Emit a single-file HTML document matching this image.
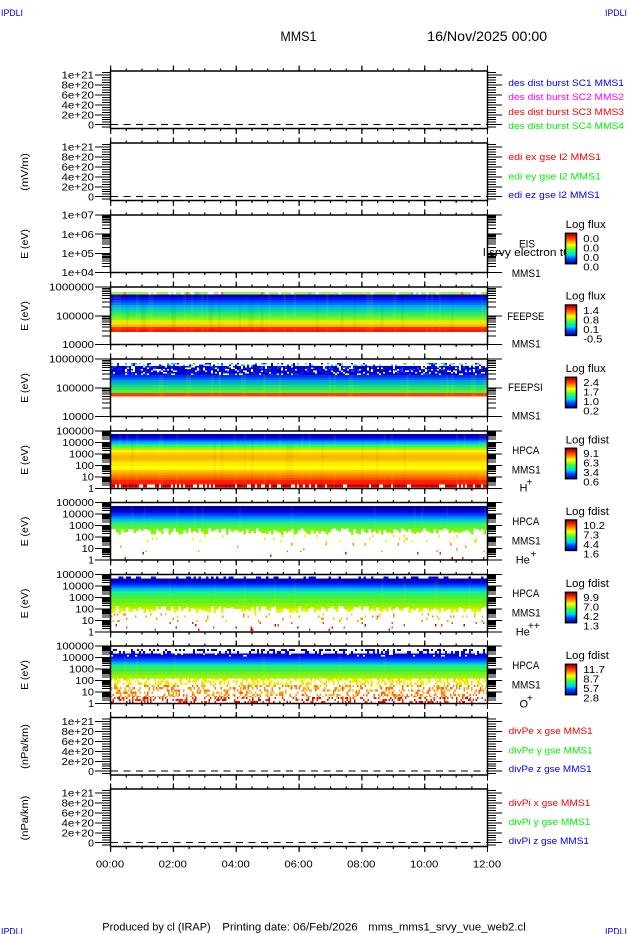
<!DOCTYPE html>
<html><head><meta charset="utf-8"><style>
html,body{margin:0;padding:0;background:#fff;}
body{width:630px;height:934px;overflow:hidden;}
svg{display:block}
text{font-family:"Liberation Sans",sans-serif;font-size:11px;fill:#000}
.tl{font-size:10.5px;text-anchor:end}
.tm{font-size:10.5px;text-anchor:middle}
.cl{font-size:10px}
.lg{font-size:9px}
.ip{font-size:9px;fill:#0000ff}
.yt{font-size:10.5px;text-anchor:middle}
.sup{font-size:10px}
</style></head><body>
<svg width="630" height="934" viewBox="0 0 630 934" xmlns="http://www.w3.org/2000/svg">
<defs>
<linearGradient id="cb" x1="0" y1="0" x2="0" y2="1">
<stop offset="0" stop-color="#a00000"/>
<stop offset=".08" stop-color="#f00000"/>
<stop offset=".22" stop-color="#ff7000"/>
<stop offset=".38" stop-color="#ffff00"/>
<stop offset=".52" stop-color="#60ff30"/>
<stop offset=".62" stop-color="#00ff80"/>
<stop offset=".72" stop-color="#00d0ff"/>
<stop offset=".85" stop-color="#0040ff"/>
<stop offset="1" stop-color="#0000a0"/>
</linearGradient>
<clipPath id="cp"><rect x="0" y="0" width="565" height="934"/></clipPath>
<g id="TT" stroke="#000" fill="none">
<path d="M110,-1.25H488M110,58.75H488" stroke-width="2.5" stroke-dasharray="1.2 14.508"/>
<path d="M110,-2.75H488M110,60.25H488" stroke-width="5.5" stroke-dasharray="1.2 61.632"/>
<rect x="110.5" y="0" width="377" height="57.5" stroke-width="1.5"/>
</g>
<g id="LN" stroke="#000" fill="none" shape-rendering="crispEdges">
<path d="M95,53.7h15M95,43.76h15M95,33.82h15M95,23.88h15M95,13.94h15M95,4h15M488,53.7h14M488,43.76h14M488,33.82h14M488,23.88h14M488,13.94h14M488,4h14"/>
<path d="M106,56.69V0.5M492,56.69V0.5" stroke-width="8" stroke-dasharray="1 1.485"/>
<path d="M111,53.7H487" stroke-dasharray="7 5.5"/>
</g>
<path id="d5" stroke="#000" fill="none" shape-rendering="crispEdges" d="M102-3.46h8M102-5.49h8M102-6.92h8M102-8.04h8M102-8.95h8M102-9.72h8M102-10.38h8M102-10.97h8M488-3.46h8M488-5.49h8M488-6.92h8M488-8.04h8M488-8.95h8M488-9.72h8M488-10.38h8M488-10.97h8"/>
<path id="d3" stroke="#000" fill="none" shape-rendering="crispEdges" d="M102-5.77h8M102-9.15h8M102-11.54h8M102-13.4h8M102-14.92h8M102-16.2h8M102-17.31h8M102-18.29h8M488-5.77h8M488-9.15h8M488-11.54h8M488-13.4h8M488-14.92h8M488-16.2h8M488-17.31h8M488-18.29h8"/>
<path id="d2" stroke="#000" fill="none" shape-rendering="crispEdges" d="M102-8.65h8M102-13.72h8M102-17.31h8M102-20.1h8M102-22.37h8M102-24.3h8M102-25.96h8M102-27.43h8M488-8.65h8M488-13.72h8M488-17.31h8M488-20.1h8M488-22.37h8M488-24.3h8M488-25.96h8M488-27.43h8"/>
<g id="L5">
<path stroke="#000" fill="none" shape-rendering="crispEdges" d="M95,0h15M95,11.5h15M95,23h15M95,34.5h15M95,46h15M95,57.5h15M488,0h14M488,11.5h14M488,23h14M488,34.5h14M488,46h14M488,57.5h14"/>
<use href="#d5" y="57.5"/><use href="#d5" y="46"/><use href="#d5" y="34.5"/><use href="#d5" y="23"/><use href="#d5" y="11.5"/>
</g>
<g id="L3">
<path stroke="#000" fill="none" shape-rendering="crispEdges" d="M95,0h15M95,19.17h15M95,38.33h15M95,57.5h15M488,0h14M488,19.17h14M488,38.33h14M488,57.5h14"/>
<use href="#d3" y="57.5"/><use href="#d3" y="38.33"/><use href="#d3" y="19.17"/>
</g>
<g id="L2">
<path stroke="#000" fill="none" shape-rendering="crispEdges" d="M95,0h15M95,28.75h15M95,57.5h15M488,0h14M488,28.75h14M488,57.5h14"/>
<use href="#d2" y="57.5"/><use href="#d2" y="28.75"/>
</g>
</defs>

<!-- header -->
<text class="ip" x="1" y="16" textLength="22" lengthAdjust="spacingAndGlyphs">IPDLI</text>
<text class="ip" x="605" y="16" textLength="22" lengthAdjust="spacingAndGlyphs">IPDLI</text>
<text x="280.4" y="41" style="font-size:13.5px" textLength="36" lengthAdjust="spacingAndGlyphs">MMS1</text>
<text x="427.2" y="41" style="font-size:13.5px" textLength="120" lengthAdjust="spacingAndGlyphs">16/Nov/2025 00:00</text>

<!-- spectrogram bands -->
<g shape-rendering="crispEdges">
<!-- P4 FEEPSE -->
<rect x="111" width="376" y="292" height="2.5" fill="#b0ee40"/>
<rect x="111" width="376" y="294.5" height="2.5" fill="#0000c0"/>
<rect x="111" width="376" y="297" height="3" fill="#0010e8"/>
<rect x="111" width="376" y="300" height="2.5" fill="#0040ff"/>
<rect x="111" width="376" y="302.5" height="2.5" fill="#0070ff"/>
<rect x="111" width="376" y="305" height="2.5" fill="#00a8f0"/>
<rect x="111" width="376" y="307.5" height="2.5" fill="#00c8c8"/>
<rect x="111" width="376" y="310" height="2.5" fill="#10dc90"/>
<rect x="111" width="376" y="312.5" height="2.5" fill="#30e868"/>
<rect x="111" width="376" y="315" height="2.5" fill="#50f040"/>
<rect x="111" width="376" y="317.5" height="2.5" fill="#90f020"/>
<rect x="111" width="376" y="320" height="2" fill="#c8f800"/>
<rect x="111" width="376" y="322" height="2.5" fill="#ffe000"/>
<rect x="111" width="376" y="324.5" height="2.5" fill="#ffb800"/>
<rect x="111" width="376" y="327" height="2.5" fill="#ff3000"/>
<rect x="111" width="376" y="329.5" height="2.5" fill="#f42000"/>
<!-- P5 FEEPSI -->
<rect x="111" width="376" y="366" height="9" fill="#0000d0"/>
<rect x="111" width="376" y="375" height="2.5" fill="#0030f0"/>
<rect x="111" width="376" y="377.5" height="2.5" fill="#0060ff"/>
<rect x="111" width="376" y="380" height="2.5" fill="#00a0e0"/>
<rect x="111" width="376" y="382.5" height="2.5" fill="#00c0b0"/>
<rect x="111" width="376" y="385" height="2.5" fill="#20d880"/>
<rect x="111" width="376" y="387.5" height="2.5" fill="#30e860"/>
<rect x="111" width="376" y="390" height="3" fill="#50f040"/>
<rect x="111" width="376" y="393" height="3.7" fill="#ff4000"/>
<!-- P6 H+ -->
<rect x="111" width="376" y="434" height="2" fill="#0000a8"/>
<rect x="111" width="376" y="436" height="2.3" fill="#0000d8"/>
<rect x="111" width="376" y="438.3" height="1.7" fill="#0030ff"/>
<rect x="111" width="376" y="440" height="1.7" fill="#0068ff"/>
<rect x="111" width="376" y="441.7" height="1.6" fill="#00b0f8"/>
<rect x="111" width="376" y="443.3" height="1.7" fill="#00e0c8"/>
<rect x="111" width="376" y="445" height="2.7" fill="#40f060"/>
<rect x="111" width="376" y="447.7" height="2.3" fill="#a8f000"/>
<rect x="111" width="376" y="450" height="2.5" fill="#fff000"/>
<rect x="111" width="376" y="452.5" height="2.5" fill="#ffd000"/>
<rect x="111" width="376" y="455" height="3.3" fill="#ffb400"/>
<rect x="111" width="376" y="458.3" height="3.4" fill="#ffc400"/>
<rect x="111" width="376" y="461.7" height="4.3" fill="#ffee00"/>
<rect x="111" width="376" y="466" height="4" fill="#ffff00"/>
<rect x="111" width="376" y="470" height="2.5" fill="#ffc000"/>
<rect x="111" width="376" y="472.5" height="2.5" fill="#ffa000"/>
<rect x="111" width="376" y="475" height="2.5" fill="#ff7800"/>
<rect x="111" width="376" y="477.5" height="2.5" fill="#ff5000"/>
<rect x="111" width="376" y="480" height="4.3" fill="#ff2000"/>
<rect x="111" width="376" y="484.3" height="3.4" fill="#d00000"/>
<!-- P7 He+ -->
<rect x="111" width="376" y="506" height="3" fill="#0000a0"/>
<rect x="111" width="376" y="509" height="2.5" fill="#0000c8"/>
<rect x="111" width="376" y="511.5" height="2" fill="#0010e8"/>
<rect x="111" width="376" y="513.5" height="2.5" fill="#0040ff"/>
<rect x="111" width="376" y="516" height="2.3" fill="#0078ff"/>
<rect x="111" width="376" y="518.3" height="2" fill="#00b8f0"/>
<rect x="111" width="376" y="520.3" height="2" fill="#00e0c0"/>
<rect x="111" width="376" y="522.3" height="2.7" fill="#30f070"/>
<rect x="111" width="376" y="525" height="3.3" fill="#50f040"/>
<rect x="111" width="376" y="528.3" height="3.2" fill="#80f010"/>
<rect x="111" width="376" y="531.5" height="3.5" fill="#88f800"/>
<!-- P8 He++ -->
<rect x="111" width="376" y="578.3" height="2.7" fill="#0000b0"/>
<rect x="111" width="376" y="581" height="2.3" fill="#0000e0"/>
<rect x="111" width="376" y="583.3" height="2.2" fill="#0030ff"/>
<rect x="111" width="376" y="585.5" height="2.2" fill="#0068ff"/>
<rect x="111" width="376" y="587.7" height="2" fill="#00a8f8"/>
<rect x="111" width="376" y="589.7" height="2" fill="#00d8d0"/>
<rect x="111" width="376" y="591.7" height="3.3" fill="#20f080"/>
<rect x="111" width="376" y="595" height="4" fill="#40f040"/>
<rect x="111" width="376" y="599" height="4" fill="#60f020"/>
<rect x="111" width="376" y="603" height="3" fill="#88f000"/>
<rect x="111" width="376" y="606" height="2.3" fill="#a8f000"/>
<rect x="111" width="376" y="608.3" height="2.5" fill="#d8f800"/>
<rect x="111" width="376" y="610.8" height="2.5" fill="#ffe800"/>
<!-- P9 O+ -->
<rect x="111" width="376" y="653.3" height="3.4" fill="#0000e0"/>
<rect x="111" width="376" y="656.7" height="2.3" fill="#0020ff"/>
<rect x="111" width="376" y="659" height="2.7" fill="#0058ff"/>
<rect x="111" width="376" y="661.7" height="1.8" fill="#00a0ff"/>
<rect x="111" width="376" y="663.5" height="1.5" fill="#00d8d0"/>
<rect x="111" width="376" y="665" height="3" fill="#20f080"/>
<rect x="111" width="376" y="668" height="4" fill="#40f040"/>
<rect x="111" width="376" y="672" height="3" fill="#70f020"/>
<rect x="111" width="376" y="675" height="3.3" fill="#a0f000"/>
</g>
<g id="sp" shape-rendering="crispEdges"></g>

<!-- axes -->
<g transform="translate(0,71)"><use href="#TT"/><use href="#LN"/></g>
<g transform="translate(0,143)"><use href="#TT"/><use href="#LN"/></g>
<g transform="translate(0,215)"><use href="#TT"/><use href="#L3"/></g>
<g transform="translate(0,287)"><use href="#TT"/><use href="#L2"/></g>
<g transform="translate(0,359)"><use href="#TT"/><use href="#L2"/></g>
<g transform="translate(0,431)"><use href="#TT"/><use href="#L5"/></g>
<g transform="translate(0,502.5)"><use href="#TT"/><use href="#L5"/></g>
<g transform="translate(0,574.5)"><use href="#TT"/><use href="#L5"/></g>
<g transform="translate(0,646)"><use href="#TT"/><use href="#L5"/></g>
<g transform="translate(0,717.5)"><use href="#TT"/><use href="#LN"/></g>
<g transform="translate(0,789)"><use href="#TT"/><use href="#LN"/></g>

<!-- tick labels -->
<g>
<text class="tl" x="94" y="78.6" textLength="32.5" lengthAdjust="spacingAndGlyphs">1e+21</text>
<text class="tl" x="94" y="88.54" textLength="32.5" lengthAdjust="spacingAndGlyphs">8e+20</text>
<text class="tl" x="94" y="98.48" textLength="32.5" lengthAdjust="spacingAndGlyphs">6e+20</text>
<text class="tl" x="94" y="108.42" textLength="32.5" lengthAdjust="spacingAndGlyphs">4e+20</text>
<text class="tl" x="94" y="118.36" textLength="32.5" lengthAdjust="spacingAndGlyphs">2e+20</text>
<text class="tl" x="94" y="128.3">0</text>

<text class="tl" x="94" y="150.6" textLength="32.5" lengthAdjust="spacingAndGlyphs">1e+21</text>
<text class="tl" x="94" y="160.54" textLength="32.5" lengthAdjust="spacingAndGlyphs">8e+20</text>
<text class="tl" x="94" y="170.48" textLength="32.5" lengthAdjust="spacingAndGlyphs">6e+20</text>
<text class="tl" x="94" y="180.42" textLength="32.5" lengthAdjust="spacingAndGlyphs">4e+20</text>
<text class="tl" x="94" y="190.36" textLength="32.5" lengthAdjust="spacingAndGlyphs">2e+20</text>
<text class="tl" x="94" y="200.3">0</text>

<text class="tl" x="94" y="218.6" textLength="32.5" lengthAdjust="spacingAndGlyphs">1e+07</text>
<text class="tl" x="94" y="237.77" textLength="32.5" lengthAdjust="spacingAndGlyphs">1e+06</text>
<text class="tl" x="94" y="256.93" textLength="32.5" lengthAdjust="spacingAndGlyphs">1e+05</text>
<text class="tl" x="94" y="276.1" textLength="32.5" lengthAdjust="spacingAndGlyphs">1e+04</text>

<text class="tl" x="94" y="290.6" textLength="45" lengthAdjust="spacingAndGlyphs">1000000</text>
<text class="tl" x="94" y="319.35" textLength="38" lengthAdjust="spacingAndGlyphs">100000</text>
<text class="tl" x="94" y="348.1" textLength="31.7" lengthAdjust="spacingAndGlyphs">10000</text>

<text class="tl" x="94" y="362.6" textLength="45" lengthAdjust="spacingAndGlyphs">1000000</text>
<text class="tl" x="94" y="391.35" textLength="38" lengthAdjust="spacingAndGlyphs">100000</text>
<text class="tl" x="94" y="420.1" textLength="31.7" lengthAdjust="spacingAndGlyphs">10000</text>

<text class="tl" x="94" y="434.6" textLength="38" lengthAdjust="spacingAndGlyphs">100000</text>
<text class="tl" x="94" y="446.1" textLength="31.7" lengthAdjust="spacingAndGlyphs">10000</text>
<text class="tl" x="94" y="457.6" textLength="25" lengthAdjust="spacingAndGlyphs">1000</text>
<text class="tl" x="94" y="469.1" textLength="18.7" lengthAdjust="spacingAndGlyphs">100</text>
<text class="tl" x="94" y="480.6" textLength="12.4" lengthAdjust="spacingAndGlyphs">10</text>
<text class="tl" x="94" y="492.1">1</text>

<text class="tl" x="94" y="506.1" textLength="38" lengthAdjust="spacingAndGlyphs">100000</text>
<text class="tl" x="94" y="517.6" textLength="31.7" lengthAdjust="spacingAndGlyphs">10000</text>
<text class="tl" x="94" y="529.1" textLength="25" lengthAdjust="spacingAndGlyphs">1000</text>
<text class="tl" x="94" y="540.6" textLength="18.7" lengthAdjust="spacingAndGlyphs">100</text>
<text class="tl" x="94" y="552.1" textLength="12.4" lengthAdjust="spacingAndGlyphs">10</text>
<text class="tl" x="94" y="563.6">1</text>

<text class="tl" x="94" y="578.1" textLength="38" lengthAdjust="spacingAndGlyphs">100000</text>
<text class="tl" x="94" y="589.6" textLength="31.7" lengthAdjust="spacingAndGlyphs">10000</text>
<text class="tl" x="94" y="601.1" textLength="25" lengthAdjust="spacingAndGlyphs">1000</text>
<text class="tl" x="94" y="612.6" textLength="18.7" lengthAdjust="spacingAndGlyphs">100</text>
<text class="tl" x="94" y="624.1" textLength="12.4" lengthAdjust="spacingAndGlyphs">10</text>
<text class="tl" x="94" y="635.6">1</text>

<text class="tl" x="94" y="649.6" textLength="38" lengthAdjust="spacingAndGlyphs">100000</text>
<text class="tl" x="94" y="661.1" textLength="31.7" lengthAdjust="spacingAndGlyphs">10000</text>
<text class="tl" x="94" y="672.6" textLength="25" lengthAdjust="spacingAndGlyphs">1000</text>
<text class="tl" x="94" y="684.1" textLength="18.7" lengthAdjust="spacingAndGlyphs">100</text>
<text class="tl" x="94" y="695.6" textLength="12.4" lengthAdjust="spacingAndGlyphs">10</text>
<text class="tl" x="94" y="707.1">1</text>

<text class="tl" x="94" y="725.1" textLength="32.5" lengthAdjust="spacingAndGlyphs">1e+21</text>
<text class="tl" x="94" y="735.04" textLength="32.5" lengthAdjust="spacingAndGlyphs">8e+20</text>
<text class="tl" x="94" y="744.98" textLength="32.5" lengthAdjust="spacingAndGlyphs">6e+20</text>
<text class="tl" x="94" y="754.92" textLength="32.5" lengthAdjust="spacingAndGlyphs">4e+20</text>
<text class="tl" x="94" y="764.86" textLength="32.5" lengthAdjust="spacingAndGlyphs">2e+20</text>
<text class="tl" x="94" y="774.8">0</text>

<text class="tl" x="94" y="796.6" textLength="32.5" lengthAdjust="spacingAndGlyphs">1e+21</text>
<text class="tl" x="94" y="806.54" textLength="32.5" lengthAdjust="spacingAndGlyphs">8e+20</text>
<text class="tl" x="94" y="816.48" textLength="32.5" lengthAdjust="spacingAndGlyphs">6e+20</text>
<text class="tl" x="94" y="826.42" textLength="32.5" lengthAdjust="spacingAndGlyphs">4e+20</text>
<text class="tl" x="94" y="836.36" textLength="32.5" lengthAdjust="spacingAndGlyphs">2e+20</text>
<text class="tl" x="94" y="846.3">0</text>
</g>

<!-- y titles -->
<text class="yt" transform="translate(28,172) rotate(-90)" textLength="37.7" lengthAdjust="spacingAndGlyphs">(mV/m)</text>
<text class="yt" transform="translate(28,244) rotate(-90)">E (eV)</text>
<text class="yt" transform="translate(28,316) rotate(-90)">E (eV)</text>
<text class="yt" transform="translate(28,388) rotate(-90)">E (eV)</text>
<text class="yt" transform="translate(28,460) rotate(-90)">E (eV)</text>
<text class="yt" transform="translate(28,531.5) rotate(-90)">E (eV)</text>
<text class="yt" transform="translate(28,603.5) rotate(-90)">E (eV)</text>
<text class="yt" transform="translate(28,675) rotate(-90)">E (eV)</text>
<text class="yt" transform="translate(28,746.5) rotate(-90)" textLength="44.7" lengthAdjust="spacingAndGlyphs">(nPa/km)</text>
<text class="yt" transform="translate(28,818) rotate(-90)" textLength="44.7" lengthAdjust="spacingAndGlyphs">(nPa/km)</text>

<!-- legends linear panels -->
<text class="lg" x="508.3" y="85.9" style="fill:#0000ff" textLength="115.7" lengthAdjust="spacingAndGlyphs">des dist burst SC1 MMS1</text>
<text class="lg" x="508.3" y="99.9" style="fill:#ff00ff" textLength="115.7" lengthAdjust="spacingAndGlyphs">des dist burst SC2 MMS2</text>
<text class="lg" x="508.3" y="114.9" style="fill:#ff0000" textLength="115.7" lengthAdjust="spacingAndGlyphs">des dist burst SC3 MMS3</text>
<text class="lg" x="508.3" y="128.9" style="fill:#00f000" textLength="115.7" lengthAdjust="spacingAndGlyphs">des dist burst SC4 MMS4</text>

<text class="lg" x="508.3" y="160.2" style="fill:#ff0000" textLength="92.7" lengthAdjust="spacingAndGlyphs">edi ex gse l2 MMS1</text>
<text class="lg" x="508.3" y="179.5" style="fill:#00f000" textLength="92.7" lengthAdjust="spacingAndGlyphs">edi ey gse l2 MMS1</text>
<text class="lg" x="508.3" y="198.2" style="fill:#0000ff" textLength="91.7" lengthAdjust="spacingAndGlyphs">edi ez gse l2 MMS1</text>

<text class="lg" x="508.7" y="734.2" style="fill:#ff0000" textLength="84" lengthAdjust="spacingAndGlyphs">divPe x gse MMS1</text>
<text class="lg" x="508.7" y="753.5" style="fill:#00f000" textLength="84" lengthAdjust="spacingAndGlyphs">divPe y gse MMS1</text>
<text class="lg" x="508.7" y="772.2" style="fill:#0000ff" textLength="83" lengthAdjust="spacingAndGlyphs">divPe z gse MMS1</text>

<text class="lg" x="508.7" y="806.2" style="fill:#ff0000" textLength="81.7" lengthAdjust="spacingAndGlyphs">divPi x gse MMS1</text>
<text class="lg" x="508.7" y="825.2" style="fill:#00f000" textLength="81.7" lengthAdjust="spacingAndGlyphs">divPi y gse MMS1</text>
<text class="lg" x="508.7" y="844.2" style="fill:#0000ff" textLength="80.3" lengthAdjust="spacingAndGlyphs">divPi z gse MMS1</text>

<!-- right labels spectrograms -->
<text x="519" y="247.7" textLength="16" lengthAdjust="spacingAndGlyphs">EIS</text>
<text x="483" y="256" clip-path="url(#cp)" textLength="90" lengthAdjust="spacingAndGlyphs">l srvy electron t0f</text>
<text x="511.7" y="277" textLength="29" lengthAdjust="spacingAndGlyphs">MMS1</text>

<text x="507.3" y="320" textLength="37" lengthAdjust="spacingAndGlyphs">FEEPSE</text>
<text x="511.7" y="347.7" textLength="29" lengthAdjust="spacingAndGlyphs">MMS1</text>

<text x="508" y="391" textLength="34.7" lengthAdjust="spacingAndGlyphs">FEEPSI</text>
<text x="511.7" y="419.7" textLength="29" lengthAdjust="spacingAndGlyphs">MMS1</text>

<text x="512.3" y="454" textLength="27" lengthAdjust="spacingAndGlyphs">HPCA</text>
<text x="511.7" y="473.3" textLength="29" lengthAdjust="spacingAndGlyphs">MMS1</text>
<text x="519.5" y="491.7">H</text><text class="sup" x="526.5" y="485.7">+</text>

<text x="512.3" y="525" textLength="27" lengthAdjust="spacingAndGlyphs">HPCA</text>
<text x="511.7" y="544.7" textLength="29" lengthAdjust="spacingAndGlyphs">MMS1</text>
<text x="515.7" y="563.5">He</text><text class="sup" x="530.5" y="557.3">+</text>

<text x="512.3" y="597" textLength="27" lengthAdjust="spacingAndGlyphs">HPCA</text>
<text x="511.7" y="616.3" textLength="29" lengthAdjust="spacingAndGlyphs">MMS1</text>
<text x="515.7" y="635.3">He</text><text class="sup" x="528" y="629">++</text>

<text x="512.3" y="669" textLength="27" lengthAdjust="spacingAndGlyphs">HPCA</text>
<text x="511.7" y="688.3" textLength="29" lengthAdjust="spacingAndGlyphs">MMS1</text>
<text x="519.5" y="707.3">O</text><text class="sup" x="527" y="701.3">+</text>

<!-- colorbars -->
<g stroke="#000" stroke-width="1.5" fill="url(#cb)">
<rect x="565.5" y="233.3" width="11" height="30.4"/>
<rect x="565.5" y="305" width="11" height="30.4"/>
<rect x="565.5" y="377.3" width="11" height="30.4"/>
<rect x="565.5" y="448.3" width="11" height="30.4"/>
<rect x="565.5" y="520" width="11" height="30.4"/>
<rect x="565.5" y="592.3" width="11" height="30.4"/>
<rect x="565.5" y="664.3" width="11" height="30.4"/>
</g>
<text x="565.7" y="228" textLength="40" lengthAdjust="spacingAndGlyphs">Log flux</text>
<text x="565.7" y="299.7" textLength="40" lengthAdjust="spacingAndGlyphs">Log flux</text>
<text x="565.7" y="372" textLength="40" lengthAdjust="spacingAndGlyphs">Log flux</text>
<text x="565.7" y="443.5" textLength="43.3" lengthAdjust="spacingAndGlyphs">Log fdist</text>
<text x="565.7" y="515" textLength="43.3" lengthAdjust="spacingAndGlyphs">Log fdist</text>
<text x="565.7" y="587.2" textLength="43.3" lengthAdjust="spacingAndGlyphs">Log fdist</text>
<text x="565.7" y="659.2" textLength="43.3" lengthAdjust="spacingAndGlyphs">Log fdist</text>

<g>
<text class="cl" x="583.3" y="242.2" textLength="15.7" lengthAdjust="spacingAndGlyphs">0.0</text>
<text class="cl" x="583.3" y="251.7" textLength="15.7" lengthAdjust="spacingAndGlyphs">0.0</text>
<text class="cl" x="583.3" y="261.2" textLength="15.7" lengthAdjust="spacingAndGlyphs">0.0</text>
<text class="cl" x="583.3" y="270.6" textLength="15.7" lengthAdjust="spacingAndGlyphs">0.0</text>

<text class="cl" x="583.3" y="313.9" textLength="15.7" lengthAdjust="spacingAndGlyphs">1.4</text>
<text class="cl" x="583.3" y="323.4" textLength="15.7" lengthAdjust="spacingAndGlyphs">0.8</text>
<text class="cl" x="583.3" y="332.9" textLength="15.7" lengthAdjust="spacingAndGlyphs">0.1</text>
<text class="cl" x="583.3" y="342.3" textLength="19" lengthAdjust="spacingAndGlyphs">-0.5</text>

<text class="cl" x="583.3" y="386.2" textLength="15.7" lengthAdjust="spacingAndGlyphs">2.4</text>
<text class="cl" x="583.3" y="395.7" textLength="15.7" lengthAdjust="spacingAndGlyphs">1.7</text>
<text class="cl" x="583.3" y="405.2" textLength="15.7" lengthAdjust="spacingAndGlyphs">1.0</text>
<text class="cl" x="583.3" y="414.6" textLength="15.7" lengthAdjust="spacingAndGlyphs">0.2</text>

<text class="cl" x="583.3" y="457.2" textLength="15.7" lengthAdjust="spacingAndGlyphs">9.1</text>
<text class="cl" x="583.3" y="466.7" textLength="15.7" lengthAdjust="spacingAndGlyphs">6.3</text>
<text class="cl" x="583.3" y="476.2" textLength="15.7" lengthAdjust="spacingAndGlyphs">3.4</text>
<text class="cl" x="583.3" y="485.6" textLength="15.7" lengthAdjust="spacingAndGlyphs">0.6</text>

<text class="cl" x="583.3" y="528.9" textLength="21.7" lengthAdjust="spacingAndGlyphs">10.2</text>
<text class="cl" x="583.3" y="538.4" textLength="15.7" lengthAdjust="spacingAndGlyphs">7.3</text>
<text class="cl" x="583.3" y="547.9" textLength="15.7" lengthAdjust="spacingAndGlyphs">4.4</text>
<text class="cl" x="583.3" y="557.3" textLength="15.7" lengthAdjust="spacingAndGlyphs">1.6</text>

<text class="cl" x="583.3" y="601.2" textLength="15.7" lengthAdjust="spacingAndGlyphs">9.9</text>
<text class="cl" x="583.3" y="610.7" textLength="15.7" lengthAdjust="spacingAndGlyphs">7.0</text>
<text class="cl" x="583.3" y="620.2" textLength="15.7" lengthAdjust="spacingAndGlyphs">4.2</text>
<text class="cl" x="583.3" y="629.6" textLength="15.7" lengthAdjust="spacingAndGlyphs">1.3</text>

<text class="cl" x="583.3" y="673.2" textLength="21.7" lengthAdjust="spacingAndGlyphs">11.7</text>
<text class="cl" x="583.3" y="682.7" textLength="15.7" lengthAdjust="spacingAndGlyphs">8.7</text>
<text class="cl" x="583.3" y="692.2" textLength="15.7" lengthAdjust="spacingAndGlyphs">5.7</text>
<text class="cl" x="583.3" y="701.6" textLength="15.7" lengthAdjust="spacingAndGlyphs">2.8</text>
</g>

<!-- time labels -->
<text class="tm" x="110" y="867.5" textLength="28.3" lengthAdjust="spacingAndGlyphs">00:00</text>
<text class="tm" x="172.8" y="867.5" textLength="28.3" lengthAdjust="spacingAndGlyphs">02:00</text>
<text class="tm" x="235.7" y="867.5" textLength="28.3" lengthAdjust="spacingAndGlyphs">04:00</text>
<text class="tm" x="298.5" y="867.5" textLength="28.3" lengthAdjust="spacingAndGlyphs">06:00</text>
<text class="tm" x="361.3" y="867.5" textLength="28.3" lengthAdjust="spacingAndGlyphs">08:00</text>
<text class="tm" x="424.2" y="867.5" textLength="28.3" lengthAdjust="spacingAndGlyphs">10:00</text>
<text class="tm" x="487" y="867.5" textLength="28.3" lengthAdjust="spacingAndGlyphs">12:00</text>

<!-- footer -->
<text x="102.3" y="930.5" textLength="108.4" lengthAdjust="spacingAndGlyphs">Produced by cl (IRAP)</text>
<text x="222.3" y="930.5" textLength="135.4" lengthAdjust="spacingAndGlyphs">Printing date: 06/Feb/2026</text>
<text x="368.3" y="930.5" textLength="157.4" lengthAdjust="spacingAndGlyphs">mms_mms1_srvy_vue_web2.cl</text>
<text class="ip" x="1" y="934.6" textLength="22" lengthAdjust="spacingAndGlyphs">IPDLI</text>
<text class="ip" x="605" y="934.6" textLength="22" lengthAdjust="spacingAndGlyphs">IPDLI</text>
</svg>
<script>
(function(){
var NS='http://www.w3.org/2000/svg',g=document.getElementById('sp'),s=20251116;
function r(){s=(s*16807)%2147483647;return s/2147483647;}
function R(x,y,w,h,c,o){var e=document.createElementNS(NS,'rect');e.setAttribute('x',x.toFixed(2));e.setAttribute('y',y.toFixed(2));e.setAttribute('width',w.toFixed(2));e.setAttribute('height',h.toFixed(2));e.setAttribute('fill',c);if(o)e.setAttribute('fill-opacity',o);g.appendChild(e);}
var X0=111,X1=487;
function sp(y0,y1,rh,cw,p,cols){for(var y=y0;y<y1-0.01;y+=rh){var h=Math.min(rh,y1-y);for(var x=X0;x<X1-0.01;x+=cw){if(r()<p)R(x,y,Math.min(cw,X1-x),h,cols[Math.floor(r()*cols.length)]);}}}
function rag(y0,y1,cw){for(var x=X0;x<X1-0.01;x+=cw){var t=y0+r()*(y1-y0);R(x,t,Math.min(cw,X1-x),y1-t,'#fff');}}
function tex(y0,y1,cw,p,c,o){for(var x=X0;x<X1-0.01;x+=cw){if(r()<p)R(x,y0,Math.min(cw,X1-x),y1-y0,c,o);}}
/* subtle vertical texture */
tex(294.5,332,2.5,0.12,'#ffff00',0.08);tex(294.5,332,2.5,0.12,'#000',0.05);
tex(375,396.7,2.5,0.10,'#ffff00',0.08);
tex(434,487.7,2.5,0.12,'#ffff00',0.07);tex(434,487.7,2.5,0.10,'#000',0.04);
tex(506,535,2.5,0.08,'#ffff00',0.06);
tex(578.3,613.3,2.5,0.08,'#ffff00',0.06);
tex(653.3,678.3,2.5,0.08,'#ffff00',0.06);
/* P4 */
sp(292,294.5,2.5,2.5,0.2,['#fff']);sp(292,294.5,2.5,2.5,0.08,['#50e070','#e8e040','#ff8000']);
/* P5 */
sp(363,366,1.5,2,0.3,['#40e080','#00c0e0','#0030ff','#0000d0']);
sp(366,375,1.5,2,0.3,['#fff','#fff','#0050ff','#0030f0']);
/* P6 */
sp(484.3,487.7,3.4,2,0.3,['#fff']);sp(484.3,487.7,3.4,2,0.2,['#a00000']);
/* P7 */
rag(528.3,535,2.5);
sp(535,543,2.5,1.5,0.04,['#ffff00','#e8f000','#ffe000']);
sp(543,552,2.5,1.5,0.02,['#ffa000','#ff8000']);
sp(552,560,2.5,1.5,0.015,['#ff2000','#e00000']);
/* P8 */
sp(576.5,578.3,1.8,2.5,0.35,['#0000c0','#0020e0']);
rag(606,613.3,2.5);
sp(613.3,622,2.2,1.5,0.08,['#ffa000','#ff8000','#ffc000']);
sp(622,631,2.2,1.5,0.04,['#ff2000','#e00000','#ff5000']);
/* P9 */
sp(649,653.3,2.2,2,0.35,['#0000d0','#0010e0']);
sp(653.3,656.7,1.7,2,0.08,['#fff']);
sp(678.3,685,2.2,1.5,0.5,['#f0f800','#ffe800','#d8f000','#ffd000']);
sp(685,697,2.2,1.5,0.38,['#ffa000','#ff8000','#ffb800','#ff6000']);
sp(697,703,2,1.5,0.3,['#ff2000','#e00000','#ff3000']);
})();
</script>
</body></html>
